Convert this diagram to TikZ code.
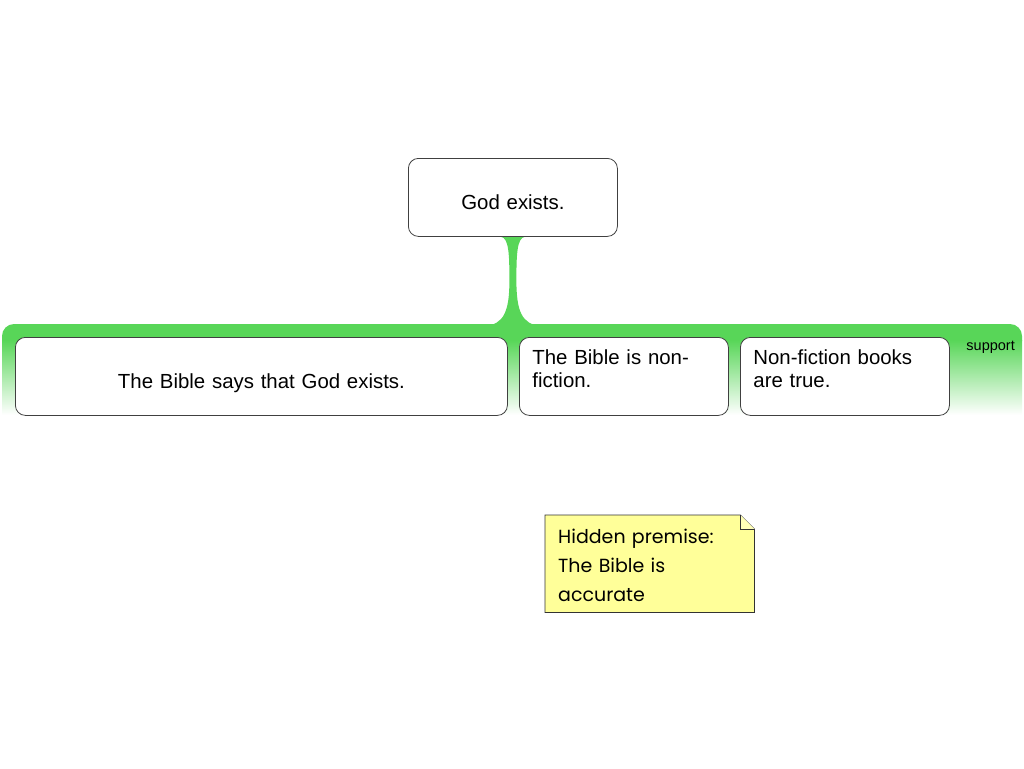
\documentclass[tikz,border=0pt]{standalone}
\usepackage{fontspec}
\setmainfont{Liberation Sans}
\newfontfamily\notefont{Poppins}
\usetikzlibrary{calc,backgrounds}

\definecolor{supportgreen}{RGB}{88,214,88}
\definecolor{noteyellow}{RGB}{255,255,153}

\begin{document}
\begin{tikzpicture}[x=1pt,y=-1pt,
    claim/.style={draw=black!75,fill=white,rounded corners=10pt,line width=0.8pt,
        anchor=north west,inner xsep=13pt,inner ysep=0pt,
        font=\fontsize{20.4}{23}\selectfont},
    oneline/.style={claim,align=center,text width=#1,text height=51pt,text depth=27pt},
    twoline/.style={claim,align=left,text width=183pt,text height=27pt,text depth=51pt},
    note/.style={anchor=north west,align=left,text width=183pt,inner xsep=13pt,
        inner ysep=0pt,text height=28pt,text depth=69pt,
        font=\notefont\fontsize{19}{29}\selectfont}]

\useasboundingbox (0,0) rectangle (1024,768);

\node[oneline=183pt] (godexists) at (408,158) {God exists.};

\node[oneline=466pt] (biblesays) at (15,337) {The Bible says that God exists.};
\node[twoline] (nonfiction) at (519,337) {The Bible is non-\\fiction.};
\node[twoline] (booksaretrue) at (740,337) {Non-fiction books\\are true.};

\node[font=\fontsize{14.5}{16}\selectfont,anchor=base east,inner sep=0pt]
    (supportlabel) at (1015,350) {support};

\begin{scope}[on background layer]
% support band
\fill[supportgreen,rounded corners=12pt] (2,341) |- (1022,324) -- (1022,341);
\shade[top color=supportgreen,bottom color=white] (2,340) rectangle (1022,415);

% stem from the claim down to the band
\coordinate (stemtop) at (godexists.south);
\coordinate (stembot) at ($(godexists.south)+(0,88)$);
\fill[supportgreen] ($(stemtop)+(12,0)$)
    .. controls ($(stemtop)+(4,1)$) and ($(stemtop)+(3.5,18)$) .. ($(stemtop)+(3.5,44)$)
    .. controls ($(stembot)+(3.5,-14)$) and ($(stembot)+(9,0)$) .. ($(stembot)+(28,1)$)
    -- ($(stembot)+(-28,1)$)
    .. controls ($(stembot)+(-9,0)$) and ($(stembot)+(-3.5,-14)$) .. ($(stemtop)+(-3.5,44)$)
    .. controls ($(stemtop)+(-3.5,18)$) and ($(stemtop)+(-4,1)$) .. ($(stemtop)+(-12,0)$)
    -- cycle;
\end{scope}

% hidden premise note
\node[note] (premise) at (545,515) {Hidden premise:\\The Bible is\\accurate};
\begin{scope}[on background layer]
\filldraw[fill=noteyellow,draw=black!80,line width=0.8pt]
    (premise.north west) -- ($(premise.north east)+(-14,0)$)
    -- ($(premise.north east)+(0,14)$) -- (premise.south east)
    -- (premise.south west) -- cycle;
\filldraw[fill=noteyellow!70,draw=black!80,line width=0.6pt]
    ($(premise.north east)+(-14,0)$) -- ($(premise.north east)+(-14,14)$)
    -- ($(premise.north east)+(0,14)$);
\end{scope}

\end{tikzpicture}
\end{document}
